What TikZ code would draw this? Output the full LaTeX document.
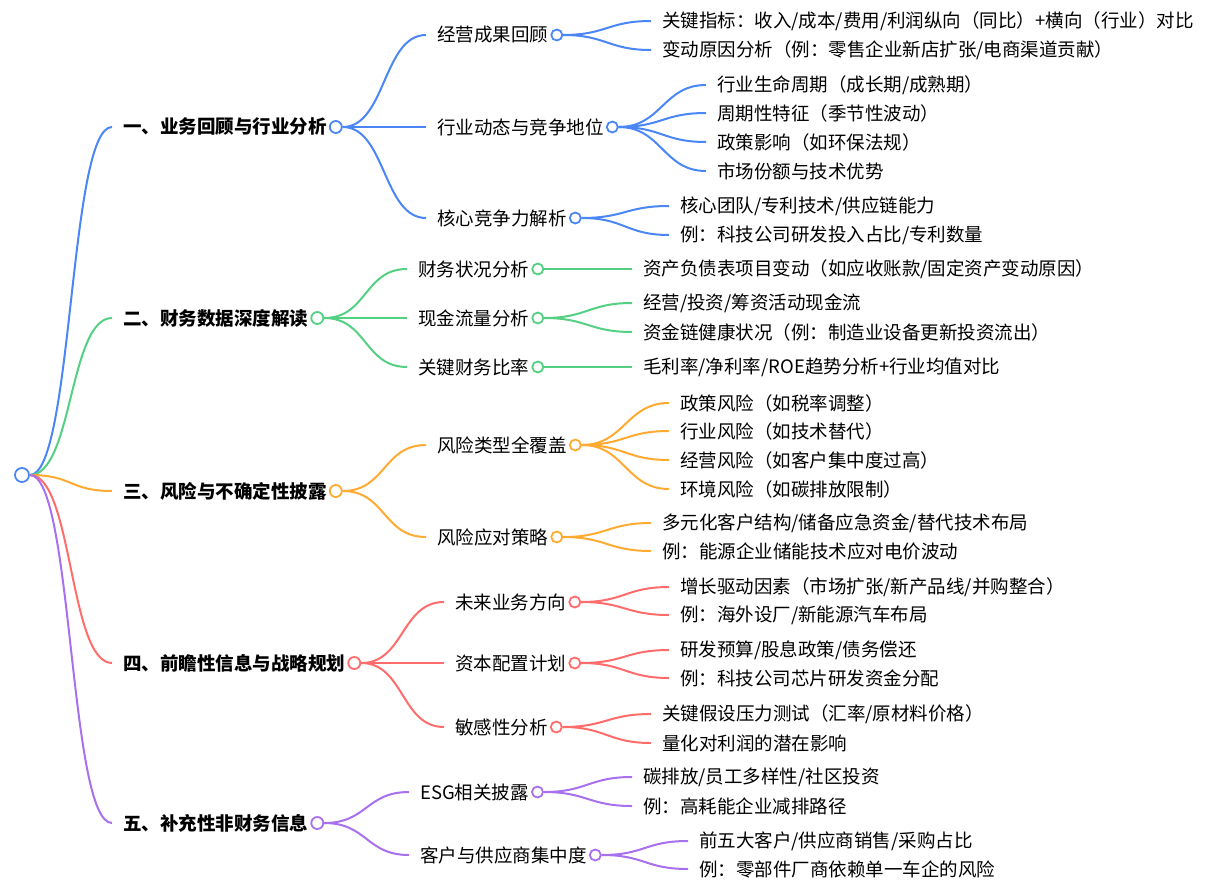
\documentclass[tikz,border=0pt]{standalone}
\usepackage{fontspec}
\setmainfont{Noto Sans CJK SC}
\usetikzlibrary{positioning}

\definecolor{cblue}{RGB}{74,134,245}
\definecolor{cgreen}{RGB}{84,208,130}
\definecolor{corange}{RGB}{255,170,48}
\definecolor{cred}{RGB}{255,108,108}
\definecolor{cpurple}{RGB}{168,112,238}

\tikzset{
  topic/.style={anchor=west, inner xsep=11pt, inner ysep=0pt, font=\fontsize{18.5}{19}\selectfont\bfseries},
  sub/.style={anchor=west, inner xsep=11pt, inner ysep=0pt, font=\fontsize{18.5}{19}\selectfont},
  leaf/.style={anchor=west, inner xsep=11pt, inner ysep=0pt, font=\fontsize{18.5}{19}\selectfont},
  dot/.style={circle, draw, line width=1.8pt, minimum size=11pt, inner sep=0pt, fill=white},
  link/.style={line width=2pt},
}

\begin{document}
\begin{tikzpicture}[x=1pt, y=-1pt]
  \useasboundingbox (0,0) rectangle (1209,891);

  % root
  \node[dot, draw=cblue, minimum size=14pt] (root) at (22,475) {};

  % topics
  \node[topic] (t1) at (112,127) {一、业务回顾与行业分析};
  \node[topic] (t2) at (112,318) {二、财务数据深度解读};
  \node[topic] (t3) at (112,491) {三、风险与不确定性披露};
  \node[topic] (t4) at (112,663) {四、前瞻性信息与战略规划};
  \node[topic] (t5) at (112,823) {五、补充性非财务信息};
  \node[dot, draw=cblue, minimum size=12pt, right=-9pt of t1] (t1c) {};
  \node[dot, draw=cgreen, minimum size=12pt, right=-9pt of t2] (t2c) {};
  \node[dot, draw=corange, minimum size=12pt, right=-9pt of t3] (t3c) {};
  \node[dot, draw=cred, minimum size=12pt, right=-9pt of t4] (t4c) {};
  \node[dot, draw=cpurple, minimum size=12pt, right=-9pt of t5] (t5c) {};

  % sub topics
  \node[sub] (s11) at (426,35) {经营成果回顾};
  \node[sub] (s12) at (426,127) {行业动态与竞争地位};
  \node[sub] (s13) at (426,218) {核心竞争力解析};
  \node[sub] (s21) at (407,269) {财务状况分析};
  \node[sub] (s22) at (407,318) {现金流量分析};
  \node[sub] (s23) at (407,367) {关键财务比率};
  \node[sub] (s31) at (426,445) {风险类型全覆盖};
  \node[sub] (s32) at (426,537) {风险应对策略};
  \node[sub] (s41) at (444,602) {未来业务方向};
  \node[sub] (s42) at (444,663) {资本配置计划};
  \node[sub] (s43) at (444,727) {敏感性分析};
  \node[sub] (s51) at (409,792) {ESG相关披露};
  \node[sub] (s52) at (409,855) {客户与供应商集中度};

  \foreach \s in {s11,s12,s13}
    \node[dot, draw=cblue, right=-9pt of \s] (\s c) {};
  \foreach \s in {s21,s22,s23}
    \node[dot, draw=cgreen, right=-9pt of \s] (\s c) {};
  \foreach \s in {s31,s32}
    \node[dot, draw=corange, right=-9pt of \s] (\s c) {};
  \foreach \s in {s41,s42,s43}
    \node[dot, draw=cred, right=-9pt of \s] (\s c) {};
  \foreach \s in {s51,s52}
    \node[dot, draw=cpurple, right=-9pt of \s] (\s c) {};

  % leaves
  \node[leaf] (l111) at (651,21) {关键指标：收入/成本/费用/利润纵向（同比）+横向（行业）对比};
  \node[leaf] (l112) at (651,50) {变动原因分析（例：零售企业新店扩张/电商渠道贡献）};
  \node[leaf] (l121) at (706,85) {行业生命周期（成长期/成熟期）};
  \node[leaf] (l122) at (706,113) {周期性特征（季节性波动）};
  \node[leaf] (l123) at (706,142) {政策影响（如环保法规）};
  \node[leaf] (l124) at (706,171) {市场份额与技术优势};
  \node[leaf] (l131) at (669,206) {核心团队/专利技术/供应链能力};
  \node[leaf] (l132) at (669,235) {例：科技公司研发投入占比/专利数量};
  \node[leaf] (l211) at (632,269) {资产负债表项目变动（如应收账款/固定资产变动原因）};
  \node[leaf] (l221) at (632,303) {经营/投资/筹资活动现金流};
  \node[leaf] (l222) at (632,332) {资金链健康状况（例：制造业设备更新投资流出）};
  \node[leaf] (l231) at (632,367) {毛利率/净利率/ROE趋势分析+行业均值对比};
  \node[leaf] (l311) at (669,403) {政策风险（如税率调整）};
  \node[leaf] (l312) at (669,431) {行业风险（如技术替代）};
  \node[leaf] (l313) at (669,460) {经营风险（如客户集中度过高）};
  \node[leaf] (l314) at (669,489) {环境风险（如碳排放限制）};
  \node[leaf] (l321) at (651,523) {多元化客户结构/储备应急资金/替代技术布局};
  \node[leaf] (l322) at (651,551) {例：能源企业储能技术应对电价波动};
  \node[leaf] (l411) at (669,587) {增长驱动因素（市场扩张/新产品线/并购整合）};
  \node[leaf] (l412) at (669,615) {例：海外设厂/新能源汽车布局};
  \node[leaf] (l421) at (669,650) {研发预算/股息政策/债务偿还};
  \node[leaf] (l422) at (669,678) {例：科技公司芯片研发资金分配};
  \node[leaf] (l431) at (651,714) {关键假设压力测试（汇率/原材料价格）};
  \node[leaf] (l432) at (651,743) {量化对利润的潜在影响};
  \node[leaf] (l511) at (632,777) {碳排放/员工多样性/社区投资};
  \node[leaf] (l512) at (632,806) {例：高耗能企业减排路径};
  \node[leaf] (l521) at (688,841) {前五大客户/供应商销售/采购占比};
  \node[leaf] (l522) at (688,869) {例：零部件厂商依赖单一车企的风险};

  % connectors
  \foreach \a/\b/\c in {root/t1/cblue, root/t2/cgreen, root/t3/corange, root/t4/cred, root/t5/cpurple,
      t1c/s11/cblue, t1c/s12/cblue, t1c/s13/cblue,
      s11c/l111/cblue, s11c/l112/cblue,
      s12c/l121/cblue, s12c/l122/cblue, s12c/l123/cblue, s12c/l124/cblue,
      s13c/l131/cblue, s13c/l132/cblue,
      t2c/s21/cgreen, t2c/s22/cgreen, t2c/s23/cgreen,
      s21c/l211/cgreen, s22c/l221/cgreen, s22c/l222/cgreen, s23c/l231/cgreen,
      t3c/s31/corange, t3c/s32/corange,
      s31c/l311/corange, s31c/l312/corange, s31c/l313/corange, s31c/l314/corange,
      s32c/l321/corange, s32c/l322/corange,
      t4c/s41/cred, t4c/s42/cred, t4c/s43/cred,
      s41c/l411/cred, s41c/l412/cred, s42c/l421/cred, s42c/l422/cred,
      s43c/l431/cred, s43c/l432/cred,
      t5c/s51/cpurple, t5c/s52/cpurple,
      s51c/l511/cpurple, s51c/l512/cpurple, s52c/l521/cpurple, s52c/l522/cpurple}
    \draw[link, \c] (\a.east) .. controls +(43,0) and +(-43,0) .. (\b.west);
\end{tikzpicture}
\end{document}
